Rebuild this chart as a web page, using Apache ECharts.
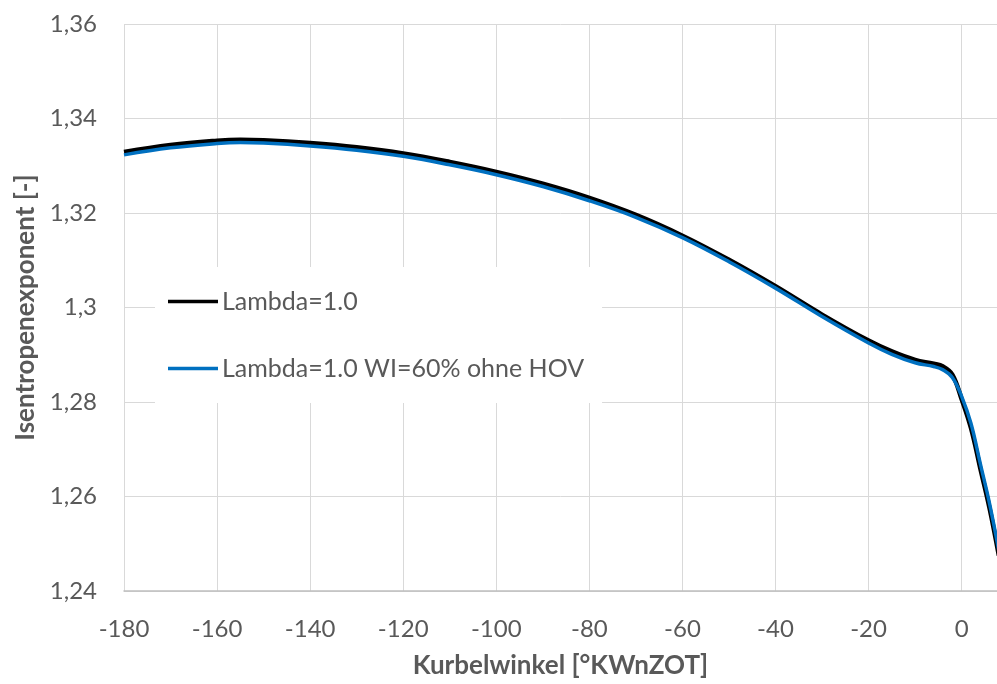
<!DOCTYPE html>
<html>
<head>
<meta charset="utf-8">
<script src="https://cdn.jsdelivr.net/npm/echarts@6/dist/echarts.min.js"></script>
<style>
  html, body { margin: 0; padding: 0; background: #fff; }
  #chart { width: 997px; height: 684px; }
</style>
</head>
<body>
<div id="chart"></div>
<script>
// Kurbelwinkel [°KWnZOT]
var angles = [-180, -170, -160, -155, -150, -140, -130, -120, -110, -100, -90, -80, -70, -60, -50, -40, -30, -20, -15, -10, -6, -4, -2, 0, 2, 4, 6, 8];
// Isentropenexponent, Lambda=1.0
var kappaRef = [1.3329, 1.3344, 1.3353, 1.3355, 1.3354, 1.3348, 1.3339, 1.3326, 1.3308, 1.3287, 1.3262, 1.3232, 1.3196, 1.3152, 1.3101, 1.3045, 1.2985, 1.2930, 1.2907, 1.2889, 1.2881, 1.2875, 1.2858, 1.2806, 1.2745, 1.2660, 1.2575, 1.2475];
// Isentropenexponent, Lambda=1.0 WI=60% ohne HOV
var kappaWi = [1.3323, 1.3338, 1.3347, 1.3349, 1.3348, 1.3342, 1.3333, 1.3320, 1.3302, 1.3281, 1.3256, 1.3226, 1.3191, 1.3148, 1.3097, 1.3041, 1.2981, 1.2925, 1.2901, 1.2883, 1.2875, 1.2868, 1.2852, 1.2812, 1.2755, 1.2670, 1.2585, 1.2485];
var seriesNames = ['Lambda=1.0', 'Lambda=1.0 WI=60% ohne HOV'];

var pair = function (xs, ys) {
    var res = [];
    for (var i = 0; i < xs.length; i++) {
        res.push([xs[i], ys[i]]);
    }
    return res;
};

var font = 'Lato, "Open Sans", sans-serif';
var chart = echarts.init(document.getElementById('chart'));
var option = {
    backgroundColor: '#ffffff',
    animation: false,
    grid: { left: 124, right: 0, top: 24, bottom: 93 },
    legend: {
        data: seriesNames,
        orient: 'vertical',
        left: 155,
        top: 267,
        icon: 'rect',
        itemWidth: 50,
        itemHeight: 3.5,
        itemGap: 42,
        backgroundColor: '#ffffff',
        padding: [22, 18, 22, 13],
        textStyle: { fontFamily: font, fontSize: 25, color: '#595959', padding: [0, 0, 0, -1] }
    },
    xAxis: {
        type: 'value',
        min: -180,
        max: 7.6,
        interval: 20,
        name: 'Kurbelwinkel [°KWnZOT]',
        nameLocation: 'middle',
        nameGap: 62,
        nameTextStyle: { fontFamily: font, fontSize: 26, fontWeight: 'bold', color: '#595959' },
        axisLine: { show: true, lineStyle: { color: '#bfbfbf', width: 1.5 } },
        axisTick: { show: false },
        axisLabel: { showMaxLabel: false, margin: 26, fontFamily: font, fontSize: 24, color: '#595959' },
        splitLine: { show: true, lineStyle: { color: '#d9d9d9', width: 1 } }
    },
    yAxis: {
        type: 'value',
        min: 1.24,
        max: 1.36,
        interval: 0.02,
        name: 'Isentropenexponent [-]',
        nameLocation: 'middle',
        nameGap: 84,
        nameTextStyle: { fontFamily: font, fontSize: 26, fontWeight: 'bold', color: '#595959' },
        axisLine: { show: false },
        axisTick: { show: false },
        axisLabel: {
            margin: 27,
            fontFamily: font,
            fontSize: 24,
            color: '#595959',
            formatter: function (v) {
                return String(parseFloat(v.toFixed(2))).replace('.', ',');
            }
        },
        splitLine: { show: true, lineStyle: { color: '#d9d9d9', width: 1 } }
    },
    series: [
        {
            name: seriesNames[0],
            type: 'line',
            data: pair(angles, kappaRef),
            smooth: 0.4,
            symbol: 'none',
            lineStyle: { color: '#000000', width: 4.5 },
            itemStyle: { color: '#000000' }
        },
        {
            name: seriesNames[1],
            type: 'line',
            data: pair(angles, kappaWi),
            smooth: 0.4,
            symbol: 'none',
            lineStyle: { color: '#0070c0', width: 3.5 },
            itemStyle: { color: '#0070c0' }
        }
    ]
};
chart.setOption(option);
</script>
</body>
</html>
